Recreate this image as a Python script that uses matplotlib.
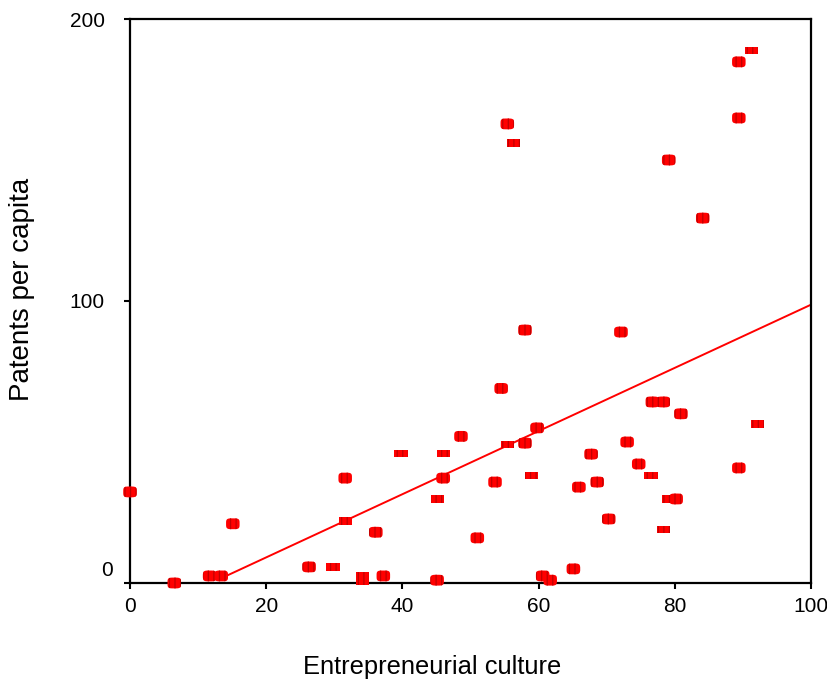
import numpy as np
import matplotlib
matplotlib.use("Agg")
import matplotlib.pyplot as plt
import matplotlib.transforms as mtransforms

plt.rcParams['font.family'] = ['Liberation Sans', 'DejaVu Sans']
plt.rcParams['hatch.linewidth'] = 0.9

# points drawn with the rounded marker
round_x = [0, 6.5, 11.7, 13.4, 15.1, 26.3, 31.6, 36.1, 37.2, 58.0, 54.5, 59.8,
           48.6, 58.0, 46.0, 53.6, 51.0, 45.1, 60.6, 61.7, 72.1, 76.7, 78.3,
           80.9, 73.0, 67.7, 74.7, 68.6, 65.9, 80.2, 70.3, 65.1, 89.4, 55.4,
           79.1, 89.4, 84.1, 89.4]
round_y = [32.3, 0, 2.5, 2.5, 21, 5.7, 37.2, 18, 2.5, 89.7, 69, 55,
           52, 49.6, 37.2, 35.8, 16, 1, 2.5, 1, 89, 64.2, 64.2,
           60, 50, 45.7, 42.2, 35.8, 34, 29.8, 22.7, 5, 40.8, 162.8,
           150, 164.9, 129.4, 184.8]

# points drawn with the flat marker
flat_x = [29.8, 31.6, 34.2, 34.2, 39.8, 55.4, 46.0, 58.9, 45.1, 76.5, 79.1,
          78.3, 92.2, 56.3, 91.2]
flat_y = [5.7, 22, 2.5, 0.5, 46, 49, 46, 38, 29.8, 38, 29.8,
          19, 56.4, 156, 188.7]

# fit line end points
fit_x = [13.5, 100]
fit_y = [1.8, 98.7]

x_ticks = [0, 20, 40, 60, 80, 100]
y_ticks = [0, 100, 200]
y_tick_labels = ['', '100', '200']

# marker shapes: rounded box and flat box
t = np.linspace(0, 2 * np.pi, 60)
n = 4
rx = np.sign(np.cos(t)) * np.abs(np.cos(t)) ** (2 / n) * 1.25
ry = np.sign(np.sin(t)) * np.abs(np.sin(t)) ** (2 / n) * 1.0
round_marker = list(zip(rx, ry))
flat_marker = [(-1.0, -0.55), (1.0, -0.55), (1.0, 0.55), (-1.0, 0.55), (-1.0, -0.55)]

fig = plt.figure(figsize=(8.28, 6.91), dpi=100)
ax = fig.add_axes([0.157, 0.1563, 0.8225, 0.8162])

ax.scatter(round_x, round_y, s=95, marker=round_marker, facecolor='#ff0000',
           edgecolor='#c00000', hatch='|||', linewidth=0, zorder=3, clip_on=False)
ax.scatter(flat_x, flat_y, s=90, marker=flat_marker, facecolor='#ff0000',
           edgecolor='#c00000', hatch='|||', linewidth=0, zorder=3, clip_on=False)
ax.plot(fit_x, fit_y, color='#ff0000', linewidth=1.4, zorder=2)

ax.set_xlim(0, 100)
ax.set_ylim(0, 200)
ax.set_xticks(x_ticks)
ax.set_yticks(y_ticks)
ax.set_yticklabels(y_tick_labels)
ax.tick_params(direction='out', length=4, width=1.5, labelsize=15,
               top=False, right=False)
ax.tick_params(axis='x', pad=6)
ax.tick_params(axis='y', pad=14)
for s in ax.spines.values():
    s.set_linewidth(1.6)

# the zero label of the y axis sits a bit above its tick
trans = mtransforms.blended_transform_factory(ax.transAxes, ax.transData)
ax.text(-0.025, 4.3, '0', ha='right', va='center', fontsize=15, transform=trans)

ax.set_xlabel('Entrepreneurial culture', fontsize=18.4)
ax.xaxis.set_label_coords(0.443, -0.128)
ax.set_ylabel('Patents per capita', fontsize=20)
ax.yaxis.set_label_coords(-0.14, 0.52)

fig.savefig('out.png', dpi=100)
